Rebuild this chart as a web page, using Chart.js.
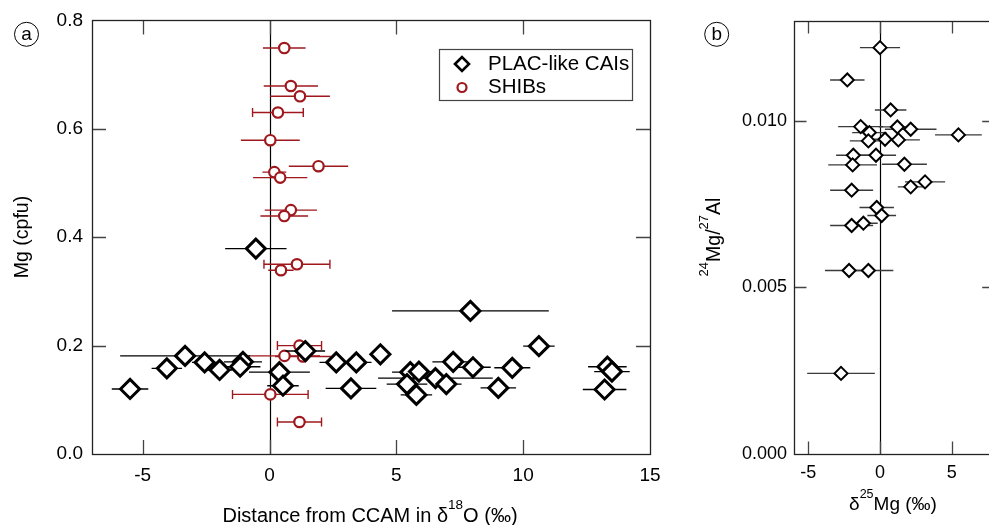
<!DOCTYPE html>
<html><head><meta charset="utf-8">
<script src="https://cdn.jsdelivr.net/npm/chart.js@4/dist/chart.umd.min.js"></script>
<style>
html,body{margin:0;padding:0;background:#fff;overflow:hidden;width:989px;height:525px}
#wa{position:absolute;left:0;top:0;width:680px;height:525px}
#wb{position:absolute;left:680px;top:0;width:330px;height:525px}
</style></head><body>
<div id="wa"><canvas id="ca" width="680" height="525"></canvas></div>
<div id="wb"><canvas id="cb" width="330" height="525"></canvas></div>
<script>
// ---------- Panel (a) data ----------
const placX   = [-0.54,-5.50,-4.05,-3.33,-2.56,-1.97,-1.05,-1.16, 0.39, 0.53, 1.41, 2.63, 3.42, 3.21, 4.37, 7.92, 5.55, 5.89, 5.42, 5.79, 6.54, 6.97, 7.24, 8.02, 9.57, 9.02,10.62,13.32,13.50,13.21];
const placY   = [0.379,0.120,0.158,0.181,0.169,0.155,0.170,0.161,0.151,0.126,0.190,0.169,0.169,0.121,0.184,0.264,0.151,0.152,0.129,0.109,0.140,0.129,0.170,0.160,0.159,0.122,0.199,0.161,0.152,0.119];
const placErr = [1.21, 0.72, 0.60, 2.56, 0.50, 0.50, 0.75, 0.80, 1.20, 0.62, 0.78, 0.66, 0.60, 1.00, 0.40, 3.09, 0.72, 0.60, 0.80, 0.62, 2.26, 0.60, 0.82, 0.70, 0.71, 0.70, 0.62, 0.76, 0.70, 0.86];

const shibX   = [0.58, 0.84, 1.20, 0.33, 0.03, 1.93, 0.19, 0.42, 0.84, 0.58, 1.08, 0.45, 1.18, 0.59, 1.32, 0.03, 1.18];
const shibY   = [0.749,0.679,0.660,0.630,0.579,0.531,0.520,0.510,0.450,0.439,0.350,0.339,0.200,0.181,0.180,0.110,0.059];
const shibErr = [0.84, 1.07, 1.18, 1.00, 1.16, 1.17, 0.47, 1.07, 1.03, 0.94, 1.30, 0.50, 0.87, 1.40, 1.10, 1.49, 0.87];
const shibCap = [false,false,false,true,false,false,false,false,false,false,true,false,true,false,false,true,true];

const xTicksA = [-5, 0, 5, 10, 15];
const yTicksA = [0, 0.2, 0.4, 0.6, 0.8];

// ---------- Panel (b) data ----------
const mgX   = [0.00,-2.28, 0.74,-1.35,-0.74, 1.21, 2.14, 5.47,-0.81, 0.35, 1.28,-1.86,-0.28,-1.91, 1.70, 3.14, 2.14,-1.98,-0.23, 0.12,-1.16,-1.98,-2.16,-0.81,-2.72];
const mgY   = [0.01220,0.01123,0.01033,0.00983,0.00965,0.00982,0.00975,0.00958,0.00940,0.00945,0.00943,0.00897,0.00897,0.00868,0.00870,0.00817,0.00802,0.00792,0.00740,0.00716,0.00693,0.00686,0.00551,0.00551,0.00242];
const mgErr = [1.40, 1.20, 1.10, 1.57, 1.20, 1.30, 1.80, 1.63, 1.30, 1.20, 1.50, 1.20, 1.40, 1.70, 1.57, 1.40, 0.90, 1.50, 1.20, 1.00, 1.00, 1.50, 1.68, 1.74, 2.36];

const xTicksB = [-5, 0, 5];
const yTicksB = [0, 0.005, 0.010];

const FONT = '"Liberation Sans", Arial, Helvetica, sans-serif';
const RED = 'rgb(158,24,30)';

function pts(xs, ys) { return xs.map((x, i) => ({x: x, y: ys[i]})); }

function drawRich(ctx, parts, x, y, size, rotate, supSize, supRise) {
  ctx.save();
  ctx.translate(x, y);
  if (rotate) ctx.rotate(-Math.PI / 2);
  ctx.fillStyle = '#000';
  ctx.textBaseline = 'alphabetic';
  ctx.textAlign = 'left';
  const ws = parts.map(p => { ctx.font = (p.sup ? supSize : size) + 'px ' + FONT; return ctx.measureText(p.t).width; });
  let cx = -ws.reduce((a, b) => a + b, 0) / 2;
  parts.forEach((p, i) => {
    ctx.font = (p.sup ? supSize : size) + 'px ' + FONT;
    ctx.fillText(p.t, cx, p.sup ? -supRise : 0);
    cx += ws[i];
  });
  ctx.restore();
}

function circledLetter(ctx, letter, x, y) {
  ctx.save();
  ctx.strokeStyle = '#000'; ctx.lineWidth = 1;
  ctx.beginPath(); ctx.arc(x, y, 12, 0, Math.PI * 2); ctx.stroke();
  ctx.fillStyle = '#000'; ctx.font = '19px ' + FONT;
  ctx.textAlign = 'center'; ctx.textBaseline = 'middle';
  ctx.fillText(letter, x, y + 0.5);
  ctx.restore();
}

// error bars per dataset, drawn just before the dataset's points
const errorBars = {
  id: 'errorBars',
  beforeDatasetDraw(chart, args) {
    const ds = chart.data.datasets[args.index];
    if (!ds.xerr) return;
    const ctx = chart.ctx, xs = chart.scales.x, ys = chart.scales.y;
    ctx.save();
    ctx.beginPath();
    ctx.rect(chart.chartArea.left, chart.chartArea.top, chart.chartArea.right - chart.chartArea.left, chart.chartArea.bottom - chart.chartArea.top);
    ctx.clip();
    ctx.strokeStyle = ds.errColor; ctx.lineWidth = ds.errWidth;
    ds.data.forEach((p, i) => {
      const py = ys.getPixelForValue(p.y);
      const x1 = xs.getPixelForValue(p.x - ds.xerr[i]);
      const x2 = xs.getPixelForValue(p.x + ds.xerr[i]);
      ctx.beginPath(); ctx.moveTo(x1, py); ctx.lineTo(x2, py); ctx.stroke();
      if (ds.caps && ds.caps[i]) {
        ctx.beginPath();
        ctx.moveTo(x1, py - 4.5); ctx.lineTo(x1, py + 4.5);
        ctx.moveTo(x2, py - 4.5); ctx.lineTo(x2, py + 4.5);
        ctx.stroke();
      }
    });
    ctx.restore();
  }
};

// frame, inward ticks, zero line, titles
const frame = {
  id: 'frame',
  beforeDatasetsDraw(chart, args, o) {
    const ctx = chart.ctx, a = chart.chartArea, xs = chart.scales.x, ys = chart.scales.y;
    ctx.save();
    const zx = Math.round(xs.getPixelForValue(0)) + 0.5;
    ctx.strokeStyle = '#000'; ctx.lineWidth = 1.2;
    ctx.beginPath(); ctx.moveTo(zx, a.top); ctx.lineTo(zx, a.bottom); ctx.stroke();
    ctx.strokeStyle = '#444'; ctx.lineWidth = 1.3;
    const tl = o.tickLen;
    o.xTicks.forEach(v => {
      if (v <= xs.min || v >= xs.max) return;
      const px = Math.round(xs.getPixelForValue(v)) + 0.5;
      ctx.beginPath();
      ctx.moveTo(px, a.bottom); ctx.lineTo(px, a.bottom - tl);
      ctx.moveTo(px, a.top); ctx.lineTo(px, a.top + tl);
      ctx.stroke();
    });
    o.yTicks.forEach(v => {
      if (v <= ys.min || v >= ys.max) return;
      const py = Math.round(ys.getPixelForValue(v)) + 0.5;
      ctx.beginPath();
      ctx.moveTo(a.left, py); ctx.lineTo(a.left + tl, py);
      ctx.moveTo(a.right, py); ctx.lineTo(a.right - tl, py);
      ctx.stroke();
    });
    ctx.strokeStyle = '#222'; ctx.lineWidth = 1.3;
    ctx.strokeRect(Math.round(a.left) + 0.5, Math.round(a.top) + 0.5, Math.round(a.right - a.left), Math.round(a.bottom - a.top));
    ctx.restore();
  },
  afterDraw(chart, args, o) { if (o.extra) o.extra(chart); }
};

function baseScales(xmin, xmax, ymin, ymax, xt, yt, yfmt, fs, xPad, yPad, yWidth, xHeight) {
  return {
    x: {
      type: 'linear', min: xmin, max: xmax,
      afterBuildTicks: s => { s.ticks = xt.map(v => ({value: v})); },
      afterFit: s => { s.height = xHeight; },
      grid: {display: false, tickLength: 0}, border: {display: false},
      ticks: {color: '#000', font: {family: FONT, size: fs}, padding: xPad, maxRotation: 0,
        callback: v => String(v)}
    },
    y: {
      type: 'linear', min: ymin, max: ymax,
      afterBuildTicks: s => { s.ticks = yt.map(v => ({value: v})); },
      afterFit: s => { s.width = yWidth; },
      grid: {display: false, tickLength: 0}, border: {display: false},
      ticks: {color: '#000', font: {family: FONT, size: fs}, padding: yPad,
        callback: v => yfmt(v)}
    }
  };
}

new Chart(document.getElementById('ca'), {
  type: 'scatter',
  data: {
    datasets: [
      {label: 'PLAC-like CAIs', data: pts(placX, placY), xerr: placErr, errColor: '#000', errWidth: 1.4,
       pointStyle: 'rectRot', pointRadius: 9.5, borderWidth: 3, borderColor: '#000', backgroundColor: '#fff'},
      {label: 'SHIBs', data: pts(shibX, shibY), xerr: shibErr, caps: shibCap, errColor: RED, errWidth: 1.4,
       pointStyle: 'circle', pointRadius: 5.2, borderWidth: 2.2, borderColor: RED, backgroundColor: '#fff'}
    ]
  },
  options: {
    responsive: false, animation: false, events: [],
    layout: {padding: {left: 0, top: 20, right: 30, bottom: 0}},
    plugins: {
      legend: {display: false}, tooltip: {enabled: false},
      frame: {
        tickLen: 14, xTicks: xTicksA, yTicks: yTicksA,
        extra(chart) {
          const ctx = chart.ctx;
          ctx.save();
          ctx.strokeStyle = '#444'; ctx.lineWidth = 1.2;
          ctx.fillStyle = '#fff';
          ctx.fillRect(439.5, 49.5, 193, 51);
          ctx.strokeRect(439.5, 49.5, 193, 51);
          const ds = chart.data.datasets;
          ctx.strokeStyle = ds[0].borderColor; ctx.lineWidth = 2.6;
          ctx.beginPath(); ctx.moveTo(455, 64); ctx.lineTo(462, 57); ctx.lineTo(469, 64); ctx.lineTo(462, 71); ctx.closePath(); ctx.stroke();
          ctx.strokeStyle = ds[1].borderColor; ctx.lineWidth = 2.2;
          ctx.beginPath(); ctx.arc(462, 87.5, 4.5, 0, Math.PI * 2); ctx.stroke();
          ctx.fillStyle = '#000'; ctx.font = '20.5px ' + FONT; ctx.textBaseline = 'middle'; ctx.textAlign = 'left';
          ctx.fillText(ds[0].label, 488, 64);
          ctx.fillText(ds[1].label, 488, 87.5);
          ctx.restore();
          circledLetter(ctx, 'a', 26.5, 34.3);
          drawRich(ctx, [{t: 'Mg (cpfu)'}], 28, 237, 19.5, true, 13, 12);
          drawRich(ctx, [{t: 'Distance from CCAM in \u03B4'}, {t: '18', sup: true}, {t: 'O (\u2030)'}], 370, 522, 20, false, 13.5, 13);
        }
      }
    },
    scales: baseScales(-7, 15, 0, 0.8, xTicksA, yTicksA, v => v.toFixed(1), 19, 10, 9, 92, 71)
  },
  plugins: [errorBars, frame]
});

new Chart(document.getElementById('cb'), {
  type: 'scatter',
  data: {
    datasets: [
      {label: 'PLAC-like CAIs', data: pts(mgX, mgY), xerr: mgErr, errColor: '#3a3a3a', errWidth: 1.4,
       pointStyle: 'rectRot', pointRadius: 6.5, borderWidth: 2, borderColor: '#000', backgroundColor: '#fff'}
    ]
  },
  options: {
    responsive: false, animation: false, events: [],
    layout: {padding: {left: 0, top: 21, right: 15.3, bottom: 0}},
    plugins: {
      legend: {display: false}, tooltip: {enabled: false},
      frame: {
        tickLen: 12.5, xTicks: xTicksB, yTicks: yTicksB,
        extra(chart) {
          const ctx = chart.ctx;
          circledLetter(ctx, 'b', 36.7, 34.3);
          drawRich(ctx, [{t: '24', sup: true}, {t: 'Mg/'}, {t: '27', sup: true}, {t: 'Al'}], 40, 237, 19.5, true, 13, 12);
          drawRich(ctx, [{t: '\u03B4'}, {t: '25', sup: true}, {t: 'Mg (\u2030)'}], 213, 510, 19, false, 12.5, 12);
        }
      }
    },
    scales: baseScales(-6, 8, 0, 0.013, xTicksB, yTicksB, v => v.toFixed(3), 18, 8, 7, 114, 71)
  },
  plugins: [errorBars, frame]
});
</script>
</body></html>
